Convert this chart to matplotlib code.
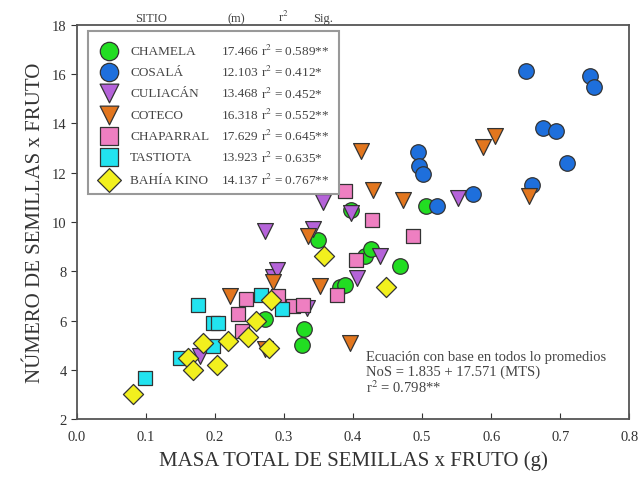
import matplotlib
matplotlib.use("Agg")
import matplotlib.pyplot as plt
from matplotlib.patches import Rectangle

plt.rcParams['font.family'] = ['Liberation Serif', 'DejaVu Serif']
plt.rcParams['mathtext.fontset'] = 'stix'

# Site data: total seed mass per fruit (g) vs number of seeds per fruit
sites = ["CHAMELA", "COSALÁ", "CULIACÁN", "COTECO", "CHAPARRAL", "TASTIOTA", "BAHÍA KINO"]
slopes = ["17.466", "12.103", "13.468", "16.318", "17.629", "13.923", "14.137"]
r2_labels = ["0.589**", "0.412*", "0.452*", "0.552**", "0.645**", "0.635*", "0.767**"]

chamela_x = [0.272, 0.326, 0.329, 0.349, 0.381, 0.388, 0.397, 0.417, 0.426, 0.468, 0.505]
chamela_y = [6.05, 5.0, 5.66, 9.26, 7.35, 7.45, 10.5, 8.6, 8.9, 8.22, 10.65]

cosala_x = [0.494, 0.496, 0.501, 0.522, 0.574, 0.651, 0.659, 0.675, 0.694, 0.710, 0.743, 0.749]
cosala_y = [12.85, 12.28, 11.96, 10.65, 11.12, 16.12, 11.5, 13.8, 13.7, 12.4, 15.94, 15.5]

culiacan_x = [0.178, 0.272, 0.284, 0.290, 0.333, 0.342, 0.357, 0.397, 0.406, 0.439, 0.552]
culiacan_y = [4.56, 9.64, 7.75, 8.06, 6.5, 9.72, 10.8, 10.35, 7.73, 8.6, 10.98]

coteco_x = [0.221, 0.272, 0.284, 0.335, 0.352, 0.396, 0.412, 0.429, 0.472, 0.588, 0.606, 0.655]
coteco_y = [7.0, 4.85, 7.55, 9.42, 7.4, 5.1, 12.9, 11.3, 10.9, 13.05, 13.5, 11.07]

chaparral_x = [0.233, 0.239, 0.245, 0.291, 0.313, 0.328, 0.377, 0.388, 0.404, 0.428, 0.487]
chaparral_y = [6.27, 5.58, 6.88, 7.0, 6.6, 6.62, 7.05, 11.27, 8.44, 10.1, 9.44]

tastiota_x = [0.099, 0.149, 0.175, 0.197, 0.197, 0.204, 0.267, 0.297]
tastiota_y = [3.67, 4.48, 6.63, 4.97, 5.9, 5.9, 7.04, 6.47]

kino_x = [0.081, 0.161, 0.168, 0.183, 0.203, 0.219, 0.248, 0.259, 0.278, 0.281, 0.358, 0.448]
kino_y = [3.0, 4.48, 4.0, 5.09, 4.2, 5.17, 5.33, 6.0, 4.9, 6.84, 8.63, 7.35]

xs = [chamela_x, cosala_x, culiacan_x, coteco_x, chaparral_x, tastiota_x, kino_x]
ys = [chamela_y, cosala_y, culiacan_y, coteco_y, chaparral_y, tastiota_y, kino_y]

colors = ["#22dd22", "#1e6fdc", "#b563d9", "#e2761e", "#ee7fc1", "#22e3ef", "#f2f01e"]
markers = ["o", "o", "v", "v", "s", "s", "D"]
sizes = [125, 125, 130, 130, 115, 115, 105]

x_ticks = [0.0, 0.1, 0.2, 0.3, 0.4, 0.5, 0.6, 0.7, 0.8]
y_ticks = [2, 4, 6, 8, 10, 12, 14, 16, 18]

fig = plt.figure(figsize=(6.42, 4.89), dpi=100)
ax = fig.add_axes([0.12, 0.141, 0.86, 0.806])

for x, y, c, m, s in zip(xs, ys, colors, markers, sizes):
    ax.scatter(x, y, s=s, c=c, marker=m, edgecolors="#333333", linewidths=0.9, zorder=3)

ax.set_xlim(0.0, 0.8)
ax.set_ylim(2, 18)
ax.set_xticks(x_ticks)
ax.set_xticklabels([f"{v:.1f}" for v in x_ticks])
ax.set_yticks(y_ticks)
ax.tick_params(axis="x", direction="in", length=4, labelsize=10.5, colors="#333333", pad=8)
ax.tick_params(axis="y", direction="out", length=4, labelsize=10.5, colors="#333333")
for sp in ax.spines.values():
    sp.set_color("#555555")
    sp.set_linewidth(1.3)

ax.set_xlabel("MASA TOTAL DE SEMILLAS x FRUTO (g)", fontsize=15, color="#333333", labelpad=5)
ax.set_ylabel("NÚMERO DE SEMILLAS x FRUTO", fontsize=15, color="#333333", labelpad=5)

# Custom legend table: marker, site, slope and r²
ax.add_patch(Rectangle((0.020, 0.571), 0.455, 0.414, transform=ax.transAxes,
                       facecolor="white", edgecolor="#999999", linewidth=1.5, zorder=4))
row_y = [0.934, 0.881, 0.826, 0.772, 0.719, 0.665, 0.607]
for yy, name, sl, r2, c, m, s in zip(row_y, sites, slopes, r2_labels, colors, markers, sizes):
    ax.scatter([0.058], [yy], s=s * 1.4, c=c, marker=m, edgecolors="#333333", linewidths=0.9,
               transform=ax.transAxes, zorder=5, clip_on=False)
    ax.text(0.096, yy, name, transform=ax.transAxes, fontsize=9.5, color="#444444",
            va="center", ha="left", zorder=6)
    ax.text(0.262, yy, sl, transform=ax.transAxes, fontsize=9.5, color="#444444",
            va="center", ha="left", zorder=6)
    ax.text(0.334, yy, "r$^2$ = " + r2, transform=ax.transAxes, fontsize=9.5, color="#444444",
            va="center", ha="left", zorder=6)

# Column header above the frame
for hx, htxt in [(0.105, "SITIO"), (0.272, "(m)"), (0.364, "r$^2$"), (0.428, "Sig.")]:
    ax.text(hx, 1.002, htxt, transform=ax.transAxes, fontsize=9, color="#444444",
            va="bottom", ha="left")

# Pooled regression note
ax.text(0.524, 0.158, "Ecuación con base en todos lo promedios", transform=ax.transAxes,
        fontsize=10.5, color="#444444", va="center", ha="left")
ax.text(0.524, 0.12, "NoS = 1.835 + 17.571 (MTS)", transform=ax.transAxes,
        fontsize=10.5, color="#444444", va="center", ha="left")
ax.text(0.524, 0.082, "r$^2$ = 0.798**", transform=ax.transAxes,
        fontsize=10.5, color="#444444", va="center", ha="left")

fig.savefig("out.png", dpi=100)
